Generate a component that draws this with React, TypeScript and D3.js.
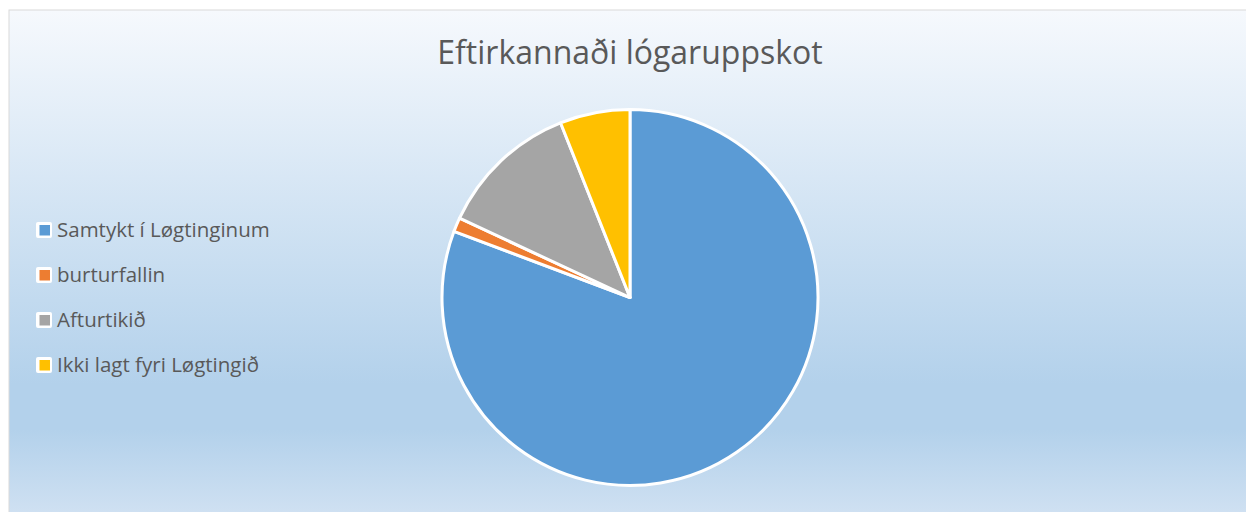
// Pie of reviewed bills — one pie, legend on the left, Office-style gradient panel.

import * as d3 from "d3";

const TITLE = "Eftirkannaði lógaruppskot";
const categories = ["Samtykt í Løgtinginum", "burturfallin", "Afturtikið", "Ikki lagt fyri Løgtingið"];
const values = [67, 1, 10, 5];
const colors = ["#5b9bd5", "#ed7d31", "#a5a5a5", "#ffc000"];

const W = 1246, H = 512;
const FONT = "'Open Sans', Lato, sans-serif";

interface Slice { label: string; value: number; color: string }

export default function App() {
  const slices: Slice[] = categories.map((c, i) => ({ label: c, value: values[i], color: colors[i] }));
  const cx = 630, cy = 297.5, R = 188;
  const arcs = d3.pie<Slice>().value((s) => s.value).sort(null)(slices);
  const arc = d3.arc<d3.PieArcDatum<Slice>>().innerRadius(0).outerRadius(R);

  const legendY = d3.scalePoint<string>().domain(categories).range([230, 365]);

  return (
    <svg width={W} height={H} style={{ position: "absolute", left: 0, top: 0 }}>
      <defs>
        <linearGradient id="bg" x1="0" y1="0" x2="0" y2="1">
          <stop offset="0" stopColor="#f6f9fd" />
          <stop offset="0.74" stopColor="#b3d1eb" />
          <stop offset="0.83" stopColor="#b3d1eb" />
          <stop offset="1" stopColor="#d0e1f2" />
        </linearGradient>
      </defs>
      <rect x={0} y={0} width={W} height={H} fill="#ffffff" />
      <rect x={9} y={10} width={W} height={506} fill="url(#bg)" stroke="#d9d9d9" strokeWidth={1} />

      <text x={630} y={64} textAnchor="middle" fontFamily={FONT} fontSize={32} fill="#595959">{TITLE}</text>

      <g transform={`translate(${cx},${cy})`}>
        {arcs.map((a) => (
          <path key={a.data.label} d={arc(a) ?? ""} fill={a.data.color}
                stroke="#ffffff" strokeWidth={3} strokeLinejoin="round" />
        ))}
      </g>

      <g fontFamily={FONT} fontSize={20.5} fill="#595959">
        {slices.map((s) => {
          const y = legendY(s.label) ?? 0;
          return (
            <g key={s.label} transform={`translate(0,${y})`}>
              <rect x={36} y={-8} width={16} height={16} rx={2} fill="#ffffff" />
              <rect x={39.5} y={-5} width={10.5} height={10.5} fill={s.color} />
              <text x={57} y={7}>{s.label}</text>
            </g>
          );
        })}
      </g>
    </svg>
  );
}
